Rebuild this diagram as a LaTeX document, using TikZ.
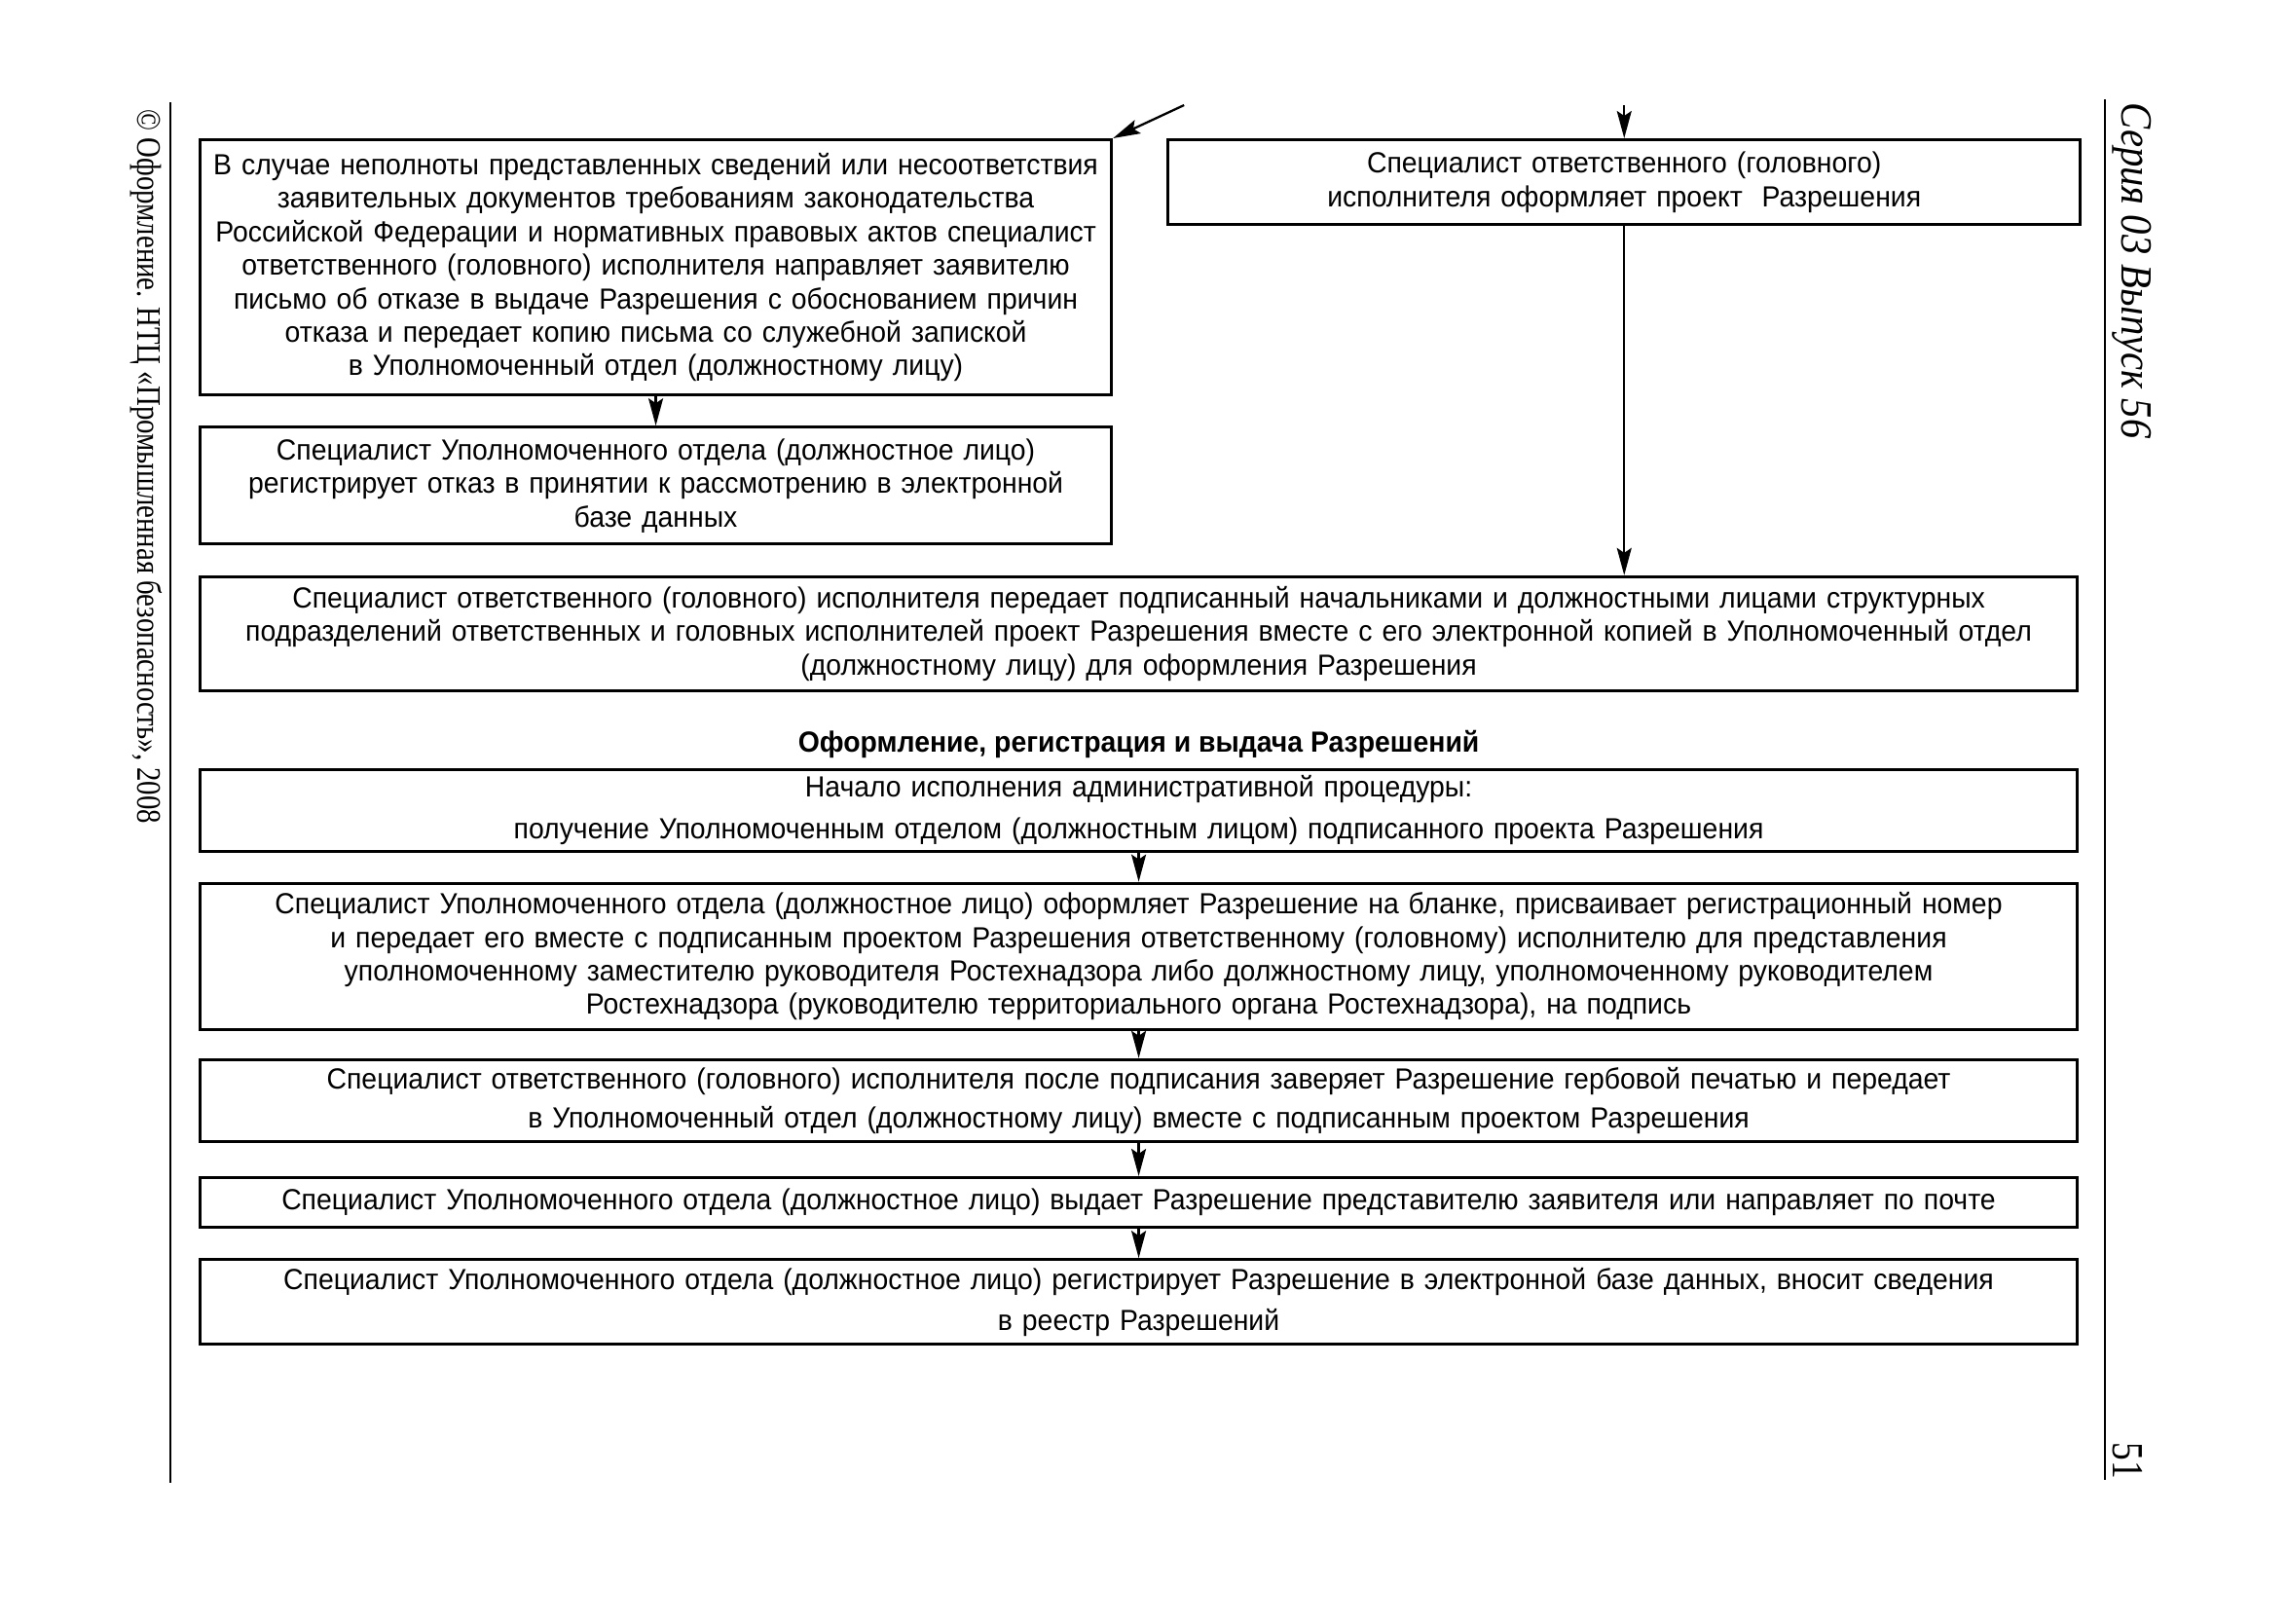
\documentclass[tikz,border=0pt]{standalone}
\usepackage{fontspec}
\setmainfont{Liberation Sans}[FakeStretch=0.95]
\newfontfamily\marginfont{Liberation Serif}[FakeStretch=0.82]
\newfontfamily\seriesfont{Liberation Serif}[FakeStretch=0.89]
\usetikzlibrary{positioning,calc,arrows.meta}
\tikzset{
  stepbox/.style={draw=black, line width=0.9pt, rectangle, align=center, inner sep=0pt,
    font=\fontsize{8.5}{9.8}\selectfont},
  flow/.style={-{Stealth[length=2.8mm,width=1.5mm,inset=0.5mm]}, line width=0.65pt},
  pagerule/.style={line width=0.8pt}
}

\begin{document}
\begin{tikzpicture}[node distance=0.3cm]
      \useasboundingbox (0,0) rectangle (23.49,-16.68);

      % Nodes
      \node [stepbox, anchor=north west, text width=9.36cm, minimum height=2.62cm] (refusal) at (2.04,-1.42)
        {В случае неполноты представленных сведений или несоответствия\\
         заявительных документов требованиям законодательства\\
         Российской Федерации и нормативных правовых актов специалист\\
         ответственного (головного) исполнителя направляет заявителю\\
         письмо об отказе в выдаче Разрешения с обоснованием причин\\
         отказа и передает копию письма со служебной запиской\\
         в Уполномоченный отдел (должностному лицу)};

      \node [stepbox, right=0.55cm of refusal.north east, anchor=north west, text width=9.37cm, minimum height=0.87cm] (draft)
        {Специалист ответственного (головного)\\
         исполнителя оформляет проект \ Разрешения};

      \node [stepbox, below=0.30cm of refusal, text width=9.36cm, minimum height=1.20cm] (reject)
        {Специалист Уполномоченного отдела (должностное лицо)\\
         регистрирует отказ в принятии к рассмотрению в электронной\\
         базе данных};

      \node [stepbox, below=0.305cm of reject.south west, anchor=north west, text width=19.28cm, minimum height=1.17cm] (handover)
        {Специалист ответственного (головного) исполнителя передает подписанный начальниками и должностными лицами структурных\\
         подразделений ответственных и головных исполнителей проект Разрешения вместе с его электронной копией в Уполномоченный отдел\\
         (должностному лицу) для оформления Разрешения};

      \node [font=\bfseries\fontsize{8.5}{9.8}\selectfont, inner sep=0pt, below=0.39cm of handover] (title)
        {Оформление, регистрация и выдача Разрешений};

      \node [stepbox, below=0.775cm of handover, text width=19.28cm, minimum height=0.84cm] (start)
        {Начало исполнения административной процедуры:\\[2.4pt]
         получение Уполномоченным отделом (должностным лицом) подписанного проекта Разрешения};

      \node [stepbox, below=0.30cm of start, text width=19.28cm, minimum height=1.50cm] (blank)
        {Специалист Уполномоченного отдела (должностное лицо) оформляет Разрешение на бланке, присваивает регистрационный номер\\
         и передает его вместе с подписанным проектом Разрешения ответственному (головному) исполнителю для представления\\
         уполномоченному заместителю руководителя Ростехнадзора либо должностному лицу, уполномоченному руководителем\\
         Ростехнадзора (руководителю территориального органа Ростехнадзора), на подпись};

      \node [stepbox, below=0.28cm of blank, text width=19.28cm, minimum height=0.84cm] (seal)
        {Специалист ответственного (головного) исполнителя после подписания заверяет Разрешение гербовой печатью и передает\\[1.6pt]
         в Уполномоченный отдел (должностному лицу) вместе с подписанным проектом Разрешения};

      \node [stepbox, below=0.34cm of seal, text width=19.28cm, minimum height=0.51cm] (issue)
        {Специалист Уполномоченного отдела (должностное лицо) выдает Разрешение представителю заявителя или направляет по почте};

      \node [stepbox, below=0.30cm of issue, text width=19.28cm, minimum height=0.87cm] (registry)
        {Специалист Уполномоченного отдела (должностное лицо) регистрирует Разрешение в электронной базе данных, вносит сведения\\[2.1pt]
         в реестр Разрешений};

      % Page margins
      \node [rotate=-90, anchor=west, inner sep=0pt, font=\marginfont\fontsize{10}{12}\selectfont] (credit) at (1.50,-1.12)
        {© Оформление. НТЦ «Промышленная безопасность», 2008};
      \node [rotate=-90, anchor=west, inner sep=0pt, font=\seriesfont\itshape\fontsize{13}{15}\selectfont] (series) at (21.90,-1.05)
        {Серия 03 Выпуск 56};
      \node [rotate=-90, inner sep=0pt, font=\marginfont\fontsize{13}{15}\selectfont] (page) at (21.85,-15.00) {51};
      \draw [pagerule] (1.75,-1.05) -- (1.75,-15.23);
      \draw [pagerule] (21.62,-1.02) -- (21.62,-15.20);

      % Arrows
      \coordinate (topin) at ($(draft.north)+(0,0.34)$);
      \coordinate (diagin) at ($(refusal.north east)+(0.73,0.34)$);
      \draw [flow] (topin) -- (draft.north);
      \draw [flow] (diagin) -- (refusal.north east);
      \draw [flow] (refusal) -- (reject);
      \draw [flow] (draft.south) -- (draft.south |- handover.north);
      \draw [flow] (start) -- (blank);
      \draw [flow] (blank) -- (seal);
      \draw [flow] (seal) -- (issue);
      \draw [flow] (issue) -- (registry);
    \end{tikzpicture}
\end{document}
